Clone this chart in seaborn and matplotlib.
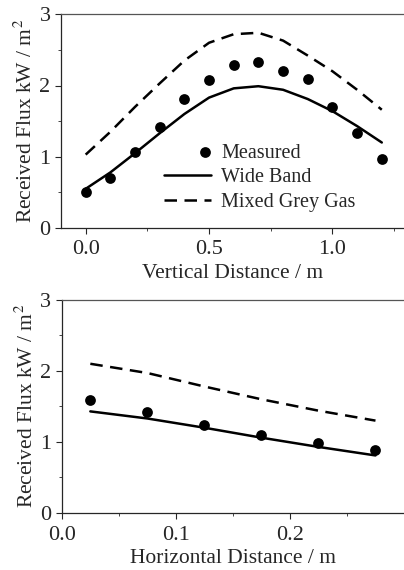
import matplotlib
matplotlib.use("Agg")
import matplotlib.pyplot as plt
from matplotlib.ticker import MultipleLocator, FixedLocator, FixedFormatter
from matplotlib.collections import PathCollection
from matplotlib.legend_handler import HandlerPathCollection
import pandas as pd
import seaborn as sns

# -----------------------------
# Data
# -----------------------------
vert_x = [0.0, 0.1, 0.2, 0.3, 0.4, 0.5, 0.6, 0.7, 0.8, 0.9, 1.0, 1.1, 1.2]
vert_measured = [0.50, 0.70, 1.07, 1.42, 1.81, 2.08, 2.29, 2.33, 2.20, 2.09, 1.70, 1.33, 0.97]
vert_wide_band = [0.55, 0.78, 1.05, 1.33, 1.60, 1.83, 1.96, 1.99, 1.94, 1.81, 1.64, 1.43, 1.20]
vert_grey_gas = [1.03, 1.35, 1.70, 2.03, 2.35, 2.60, 2.72, 2.74, 2.63, 2.42, 2.20, 1.94, 1.66]

horiz_x = [0.025, 0.075, 0.125, 0.175, 0.225, 0.275]
horiz_measured = [1.59, 1.42, 1.24, 1.10, 0.99, 0.89]
horiz_wide_band = [1.43, 1.33, 1.20, 1.06, 0.93, 0.81]
horiz_grey_gas = [2.10, 1.97, 1.78, 1.60, 1.44, 1.30]

sns.set_style("ticks")
plt.rcParams["font.family"] = ["Liberation Serif", "DejaVu Serif"]
plt.rcParams["mathtext.fontset"] = "stix"

TICK_FS = 16
LABEL_FS = 15.5
LEGEND_FS = 14.5
YLABEL = "Received Flux kW / m$^2$"


class RightPoint(HandlerPathCollection):
    # put the single legend dot at the right end of the handle
    def get_xdata(self, legend, xdescent, ydescent, width, height, fontsize):
        x = [-xdescent + width - 0.3 * fontsize]
        return x, x


def draw_panel(ax, x, measured, wide, grey, xlim, xlabel):
    df = pd.DataFrame({"x": x, "measured": measured, "wide": wide, "grey": grey})
    sns.lineplot(data=df, x="x", y="grey", ax=ax, color="black", linewidth=1.8,
                 linestyle=(0, (5, 3)), label="Mixed Grey Gas")
    sns.lineplot(data=df, x="x", y="wide", ax=ax, color="black", linewidth=1.8,
                 label="Wide Band")
    sns.scatterplot(data=df, x="x", y="measured", ax=ax, color="black", s=60,
                    edgecolor="black", linewidth=0, label="Measured", zorder=5)

    ax.set_xlim(*xlim)
    ax.set_ylim(0, 3)
    ax.yaxis.set_major_locator(MultipleLocator(1))
    ax.yaxis.set_minor_locator(MultipleLocator(0.5))
    ax.tick_params(which="major", length=4, width=0.8, labelsize=TICK_FS, direction="out")
    ax.tick_params(axis="x", which="major", pad=5)
    ax.tick_params(which="minor", length=2, width=0.6, direction="out")
    ax.set_xlabel(xlabel, fontsize=LABEL_FS, labelpad=3)
    ax.set_ylabel(YLABEL, fontsize=LABEL_FS, labelpad=2)
    ax.spines["right"].set_visible(False)
    ax.spines["top"].set_color("#555555")
    for s in ("left", "bottom", "top"):
        ax.spines[s].set_linewidth(0.9)


fig = plt.figure(figsize=(4.04, 5.70), dpi=100)
ax1 = fig.add_axes([0.151, 0.600, 0.849, 0.375])
ax2 = fig.add_axes([0.153, 0.100, 0.847, 0.374])

# top panel: vertical traverse
draw_panel(ax1, vert_x, vert_measured, vert_wide_band, vert_grey_gas,
           (-0.1, 1.29), "Vertical Distance / m")
ax1.xaxis.set_major_locator(FixedLocator([0.0, 0.5, 1.0]))
ax1.xaxis.set_major_formatter(FixedFormatter(["0.0", "0.5", "1.0"]))
ax1.xaxis.set_minor_locator(FixedLocator([0.25, 0.75, 1.25]))

handles, labels = ax1.get_legend_handles_labels()
order = [labels.index(n) for n in ["Measured", "Wide Band", "Mixed Grey Gas"]]
ax1.legend([handles[i] for i in order], [labels[i] for i in order],
           loc="upper left", bbox_to_anchor=(0.30, 0.395), frameon=False,
           fontsize=LEGEND_FS, handlelength=2.35, handletextpad=0.5,
           labelspacing=0.28, borderaxespad=0, borderpad=0,
           handler_map={PathCollection: RightPoint()})

# bottom panel: horizontal traverse
draw_panel(ax2, horiz_x, horiz_measured, horiz_wide_band, horiz_grey_gas,
           (0.0, 0.3), "Horizontal Distance / m")
ax2.xaxis.set_major_locator(FixedLocator([0.0, 0.1, 0.2]))
ax2.xaxis.set_major_formatter(FixedFormatter(["0.0", "0.1", "0.2"]))
ax2.xaxis.set_minor_locator(FixedLocator([0.05, 0.15, 0.25]))
ax2.get_legend().remove()

fig.savefig("out.png", dpi=100)
